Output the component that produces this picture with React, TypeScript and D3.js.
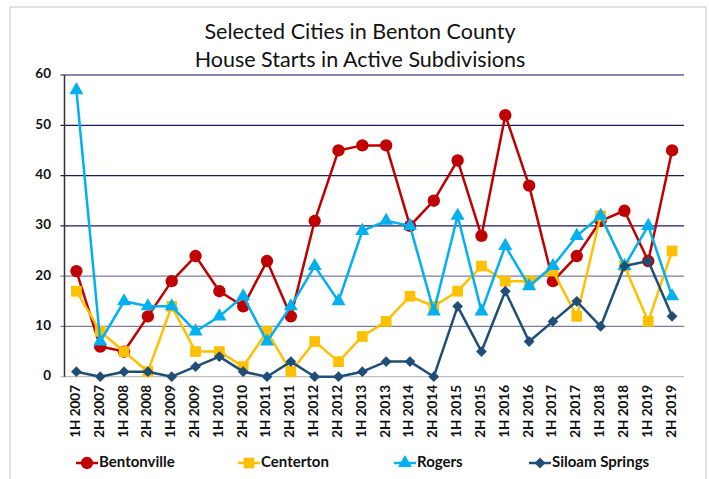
import * as d3 from 'd3';

const periods = [
  '1H 2007', '2H 2007', '1H 2008', '2H 2008', '1H 2009', '2H 2009', '1H 2010', '2H 2010',
  '1H 2011', '2H 2011', '1H 2012', '2H 2012', '1H 2013', '2H 2013', '1H 2014', '2H 2014',
  '1H 2015', '2H 2015', '1H 2016', '2H 2016', '1H 2017', '2H 2017', '1H 2018', '2H 2018',
  '1H 2019', '2H 2019',
];

const bentonville = [21, 6, 5, 12, 19, 24, 17, 14, 23, 12, 31, 45, 46, 46, 30, 35, 43, 28, 52, 38, 19, 24, 31, 33, 23, 45];
const centerton = [17, 9, 5, 1, 14, 5, 5, 2, 9, 1, 7, 3, 8, 11, 16, 14, 17, 22, 19, 19, 21, 12, 32, 22, 11, 25];
const rogers = [57, 7, 15, 14, 14, 9, 12, 16, 7, 14, 22, 15, 29, 31, 30, 13, 32, 13, 26, 18, 22, 28, 32, 22, 30, 16];
const siloamSprings = [1, 0, 1, 1, 0, 2, 4, 1, 0, 3, 0, 0, 1, 3, 3, 0, 14, 5, 17, 7, 11, 15, 10, 22, 23, 12];

const yTicks = [0, 10, 20, 30, 40, 50, 60];

const series = [
  { name: 'Bentonville', values: bentonville, color: '#C00000', symbol: d3.symbolCircle, size: 120, rotate: 0 },
  { name: 'Centerton', values: centerton, color: '#FFC000', symbol: d3.symbolSquare, size: 115, rotate: 0 },
  { name: 'Rogers', values: rogers, color: '#00B0F0', symbol: d3.symbolTriangle, size: 85, rotate: 0 },
  { name: 'Siloam Springs', values: siloamSprings, color: '#1F4E79', symbol: d3.symbolSquare, size: 58, rotate: 45 },
];

const legendX = [87, 249, 405, 540];

const gridColor: Record<number, string> = {
  0: '#BFBFBF',
  10: '#7F7B9E',
  20: '#7F7B9E',
  30: '#1B1B5E',
  40: '#1B1B5E',
  50: '#1B1B5E',
  60: '#8A84AE',
};

export default function App() {
  const W = 709;
  const H = 479;
  const left = 64.5;
  const right = 684;
  const top = 75;
  const bottom = 376.7;
  const font = 'Lato, "Open Sans", sans-serif';

  const x = d3.scaleBand().domain(periods).range([left, right]);
  const y = d3.scaleLinear().domain([0, 60]).range([bottom, top]);
  const cx = (p: string) => (x(p) || 0) + x.bandwidth() / 2;

  const line = d3
    .line<number>()
    .x((_, i) => cx(periods[i]))
    .y((d) => y(d));

  return (
    <svg width={W} height={H} style={{ position: 'absolute', left: 0, top: 0, background: '#fff' }}>
      <rect x={10} y={7} width={696} height={H} fill="#fff" stroke="#D9D9D9" strokeWidth={1.5} />

      <text x={360} y={39} textAnchor="middle" fontFamily={font} fontSize={21.5} fill="#111">
        Selected Cities in Benton County
      </text>
      <text x={360} y={67} textAnchor="middle" fontFamily={font} fontSize={21.5} fill="#111">
        House Starts in Active Subdivisions
      </text>

      {/* gridlines */}
      {yTicks.map((t) => (
        <line
          key={t}
          x1={left - 4}
          x2={right}
          y1={y(t)}
          y2={y(t)}
          stroke={gridColor[t]}
          strokeWidth={t === 60 ? 2 : 1.2}
        />
      ))}
      <line x1={left} x2={left} y1={top} y2={bottom} stroke="#333" strokeWidth={1.5} />

      {yTicks.map((t) => (
        <text
          key={t}
          x={51}
          y={y(t)}
          textAnchor="end"
          dominantBaseline="middle"
          fontFamily={font}
          fontWeight="bold"
          fontSize={13.5}
          fill="#111"
        >
          {t}
        </text>
      ))}

      {periods.map((p) => (
        <text
          key={p}
          transform={`translate(${cx(p)}, 385) rotate(-90)`}
          textAnchor="end"
          dominantBaseline="middle"
          fontFamily={font}
          fontWeight="bold"
          fontSize={13.5}
          fill="#111"
        >
          {p}
        </text>
      ))}

      {series.map((s) => {
        const sym = d3.symbol().type(s.symbol).size(s.size)();
        return (
          <g key={s.name}>
            <path d={line(s.values) || ''} fill="none" stroke={s.color} strokeWidth={2.5} strokeLinejoin="round" />
            {s.values.map((v, i) => (
              <path
                key={i}
                d={sym || ''}
                transform={`translate(${cx(periods[i])}, ${y(v)}) rotate(${s.rotate})`}
                fill={s.color}
              />
            ))}
          </g>
        );
      })}

      {series.map((s, i) => {
        const sym = d3.symbol().type(s.symbol).size(s.size)();
        const lx = legendX[i];
        return (
          <g key={s.name} transform={`translate(${lx}, 463)`}>
            <line x1={-11} x2={11} y1={0} y2={0} stroke={s.color} strokeWidth={2.5} />
            <path d={sym || ''} fill={s.color} transform={`rotate(${s.rotate})`} />
            <text x={12} y={0} dominantBaseline="middle" fontFamily={font} fontWeight="bold" fontSize={15} fill="#111">
              {s.name}
            </text>
          </g>
        );
      })}
    </svg>
  );
}
